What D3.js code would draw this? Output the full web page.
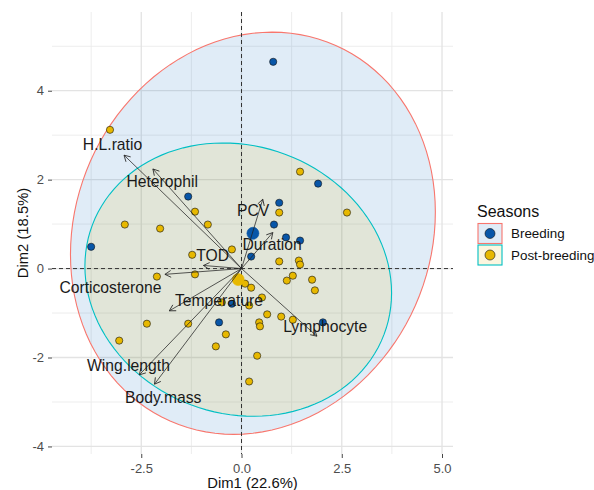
<!DOCTYPE html>
<html>
<head>
<meta charset="utf-8">
<script src="https://cdn.jsdelivr.net/npm/d3@7"></script>
<style>
  body { margin: 0; background: #fff; }
  svg { display: block; font-family: "Liberation Sans", Arial, sans-serif; }
</style>
</head>
<body>
<svg id="chart" width="594" height="490"></svg>
<script>
// Individual scores on the first two dimensions, by season
const seasonNames = ["Breeding", "Post-breeding"];

const breedingDim1 = [0.79, -3.75, -1.33, 1.91, 0.94, 0.81, 1.11, 1.46, 0.24, -0.24, -0.56, 2.03];
const breedingDim2 = [4.65, 0.49, 1.62, 1.91, 1.48, 0.99, 0.70, 0.63, 0.27, -0.79, -1.21, -1.21];

const postDim1 = [-3.28, -1.16, -0.84, -2.91, -2.03, -0.24, -1.23, 1.46, 0.94, 2.63,
                  0.94, 1.43, 1.46, 1.28, 1.13, 1.76, 1.83, 0.09, 0.24, 0.51,
                  0.19, 0.64, 0.99, 1.28, 0.44, 0.46, -0.39, -2.11, -1.16, -0.49,
                  -2.36, -1.33, -3.05, -0.64, 0.39, 0.19];
const postDim2 = [3.12, 1.28, 0.99, 0.99, 0.90, 0.43, 0.31, 2.18, 1.26, 1.26,
                  0.16, 0.18, 0.09, -0.16, -0.27, -0.25, -0.49, -0.34, -0.43, -0.65,
                  -0.83, -1.03, -1.08, -1.15, -1.21, -1.30, -1.48, -0.18, -0.13, -0.76,
                  -1.24, -1.24, -1.62, -1.75, -1.96, -2.54];

// Variable loadings (arrow tips)
const variableNames = ["H.L.ratio", "Heterophil", "PCV", "Duration", "TOD",
                       "Corticosterone", "Temperature", "Wing.length", "Body.mass", "Lymphocyte"];
const variableDim1 = [-2.93, -2.21, 0.53, 0.78, -0.95, -1.91, -1.80, -2.55, -2.17, 1.88];
const variableDim2 = [2.55, 2.24, 1.56, 0.81, 0.07, -0.13, -0.95, -2.39, -2.60, -1.52];

// Axes
const xTicks = [-2.5, 0, 2.5, 5];
const yTicks = [-4, -2, 0, 2, 4];
const xMinorTicks = [-3.75, -1.25, 1.25, 3.75];
const yMinorTicks = [-3, -1, 1, 3, 5];
const xTitle = "Dim1 (22.6%)";
const yTitle = "Dim2 (18.5%)";
const legendTitle = "Seasons";

// ---- layout & style ----
const panel = { left: 52, right: 453, top: 12, bottom: 454 };
const colors = {
  point: ["#0856A8", "#E7B800"],
  ellipseFill: ["#0A66C2", "#E7B800"],
  border: ["#F8766D", "#00BFC4"]
};
const fillAlpha = 0.125;
// label placement relative to the arrow tip (pixels)
const labelNudge = {
  "H.L.ratio": [-11.5, -10.5], "Heterophil": [9.3, 13], "PCV": [-9.7, 11.7],
  "Duration": [-0.7, 12.3], "TOD": [9.2, -9.7], "Corticosterone": [-54.5, 12.7],
  "Temperature": [49.7, -10.3], "Wing.length": [-10.8, -9], "Body.mass": [8.7, 13.7],
  "Lymphocyte": [8.3, -9.3]
};

const groups = [
  { name: seasonNames[0], xs: breedingDim1, ys: breedingDim2 },
  { name: seasonNames[1], xs: postDim1, ys: postDim2 }
];

const svg = d3.select("#chart");

const x = d3.scaleLinear().domain([-4.726, 5.274]).range([panel.left, panel.right]);
const y = d3.scaleLinear().domain([-4.17, 5.77]).range([panel.bottom, panel.top]);

// grid
const grid = svg.append("g");
grid.selectAll(".vminor").data(xMinorTicks).join("line")
  .attr("x1", d => x(d)).attr("x2", d => x(d))
  .attr("y1", panel.top).attr("y2", panel.bottom)
  .attr("stroke", "#ebebeb").attr("stroke-width", 0.9);
grid.selectAll(".hminor").data(yMinorTicks).join("line")
  .attr("y1", d => y(d)).attr("y2", d => y(d))
  .attr("x1", panel.left).attr("x2", panel.right)
  .attr("stroke", "#ebebeb").attr("stroke-width", 0.9);
grid.selectAll(".vmajor").data(xTicks).join("line")
  .attr("x1", d => x(d)).attr("x2", d => x(d))
  .attr("y1", panel.top).attr("y2", panel.bottom)
  .attr("stroke", "#e3e3e3").attr("stroke-width", 1.3);
grid.selectAll(".hmajor").data(yTicks).join("line")
  .attr("y1", d => y(d)).attr("y2", d => y(d))
  .attr("x1", panel.left).attr("x2", panel.right)
  .attr("stroke", "#e3e3e3").attr("stroke-width", 1.3);

// 95% normal-theory ellipse (same construction as ggplot2 stat_ellipse, type "norm")
function ellipsePoints(xs, ys, level = 0.95, segments = 120) {
  const n = xs.length;
  const mx = d3.mean(xs), my = d3.mean(ys);
  let sxx = 0, syy = 0, sxy = 0;
  for (let i = 0; i < n; i++) {
    const dx = xs[i] - mx, dy = ys[i] - my;
    sxx += dx * dx; syy += dy * dy; sxy += dx * dy;
  }
  sxx /= n - 1; syy /= n - 1; sxy /= n - 1;
  const dfd = n - 1;
  const fq = (dfd / 2) * (Math.pow(1 - level, -2 / dfd) - 1); // qf(level, 2, dfd)
  const r = Math.sqrt(2 * fq);
  const a = Math.sqrt(sxx), b = sxy / a, d = Math.sqrt(syy - b * b);
  return d3.range(segments).map(i => {
    const t = 2 * Math.PI * i / segments;
    const c = Math.cos(t), s = Math.sin(t);
    return [mx + r * c * a, my + r * (c * b + s * d)];
  });
}

const line = d3.line().x(p => x(p[0])).y(p => y(p[1])).curve(d3.curveLinearClosed);
const ell = svg.append("g");
groups.forEach((g, i) => {
  ell.append("path")
    .attr("d", line(ellipsePoints(g.xs, g.ys)))
    .attr("fill", colors.ellipseFill[i]).attr("fill-opacity", fillAlpha)
    .attr("stroke", colors.border[i]).attr("stroke-width", 1.1);
});

// reference lines
svg.append("line")
  .attr("x1", x(0)).attr("x2", x(0)).attr("y1", panel.top).attr("y2", panel.bottom)
  .attr("stroke", "#333").attr("stroke-width", 1).attr("stroke-dasharray", "4,3");
svg.append("line")
  .attr("y1", y(0)).attr("y2", y(0)).attr("x1", panel.left).attr("x2", panel.right)
  .attr("stroke", "#333").attr("stroke-width", 1).attr("stroke-dasharray", "4,3");

// individuals
const pts = svg.append("g");
groups.forEach((g, i) => {
  pts.selectAll(null).data(d3.range(g.xs.length)).join("circle")
    .attr("cx", k => x(g.xs[k])).attr("cy", k => y(g.ys[k]))
    .attr("r", 3.6)
    .attr("fill", colors.point[i]).attr("stroke", "#111").attr("stroke-width", 0.6);
});
// group means
groups.forEach((g, i) => {
  pts.append("circle")
    .attr("cx", x(d3.mean(g.xs))).attr("cy", y(d3.mean(g.ys)))
    .attr("r", 6)
    .attr("fill", colors.point[i]).attr("stroke", colors.point[i]).attr("stroke-width", 0.6);
});

// variable arrows
svg.append("defs").append("marker")
  .attr("id", "head").attr("viewBox", "-8 -5 10 10")
  .attr("refX", 0).attr("refY", 0)
  .attr("markerWidth", 10).attr("markerHeight", 10)
  .attr("markerUnits", "userSpaceOnUse").attr("orient", "auto")
  .append("path").attr("d", "M-6,-3.4L0,0L-6,3.4")
  .attr("fill", "none").attr("stroke", "#222").attr("stroke-width", 0.8);

const vars = svg.append("g");
variableNames.forEach((name, i) => {
  vars.append("line")
    .attr("x1", x(0)).attr("y1", y(0))
    .attr("x2", x(variableDim1[i])).attr("y2", y(variableDim2[i]))
    .attr("stroke", "#222").attr("stroke-width", 0.75)
    .attr("marker-end", "url(#head)");
});
variableNames.forEach((name, i) => {
  const nudge = labelNudge[name];
  vars.append("text")
    .attr("x", x(variableDim1[i]) + nudge[0])
    .attr("y", y(variableDim2[i]) + nudge[1])
    .attr("dy", "0.35em").attr("text-anchor", "middle")
    .attr("font-size", "15.7px").attr("fill", "#1a1a1a")
    .text(name);
});

// axes
const fmtX = d => d.toFixed(1);
const xAxis = svg.append("g").attr("transform", `translate(0,${panel.bottom})`)
  .call(d3.axisBottom(x).tickValues(xTicks).tickFormat(fmtX).tickSize(4).tickPadding(5.5));
const yAxis = svg.append("g").attr("transform", `translate(${panel.left},0)`)
  .call(d3.axisLeft(y).tickValues(yTicks).tickFormat(d => String(d)).tickSize(4).tickPadding(4));
[xAxis, yAxis].forEach(a => {
  a.select(".domain").remove();
  a.selectAll(".tick line").attr("stroke", "#444").attr("stroke-width", 1);
  a.selectAll(".tick text").attr("fill", "#4d4d4d")
    .attr("font-size", "13px").attr("font-family", "Liberation Sans, Arial, sans-serif");
});

svg.append("text")
  .attr("x", (panel.left + panel.right) / 2).attr("y", 487.5)
  .attr("text-anchor", "middle").attr("font-size", "14.8px").attr("fill", "#111")
  .text(xTitle);
svg.append("text")
  .attr("transform", `translate(28,${(panel.top + panel.bottom) / 2}) rotate(-90)`)
  .attr("text-anchor", "middle").attr("font-size", "14.8px").attr("fill", "#111")
  .text(yTitle);

// legend
const leg = svg.append("g");
leg.append("text").attr("x", 477).attr("y", 216.8)
  .attr("font-size", "16px").attr("fill", "#111").text(legendTitle);
seasonNames.forEach((name, i) => {
  const top = 223.5 + i * 21.5;
  leg.append("rect").attr("x", 478).attr("y", top).attr("width", 24).attr("height", 20)
    .attr("fill", "#fff");
  leg.append("rect").attr("x", 478).attr("y", top).attr("width", 24).attr("height", 20)
    .attr("fill", colors.ellipseFill[i]).attr("fill-opacity", fillAlpha)
    .attr("stroke", colors.border[i]).attr("stroke-width", 1.1);
  leg.append("circle").attr("cx", 490).attr("cy", top + 10).attr("r", 5)
    .attr("fill", colors.point[i]).attr("stroke", "#111").attr("stroke-width", 0.6);
  leg.append("text").attr("x", 511).attr("y", top + 10).attr("dy", "0.35em")
    .attr("font-size", "13.4px").attr("fill", "#111").text(name);
});
</script>
</body>
</html>
